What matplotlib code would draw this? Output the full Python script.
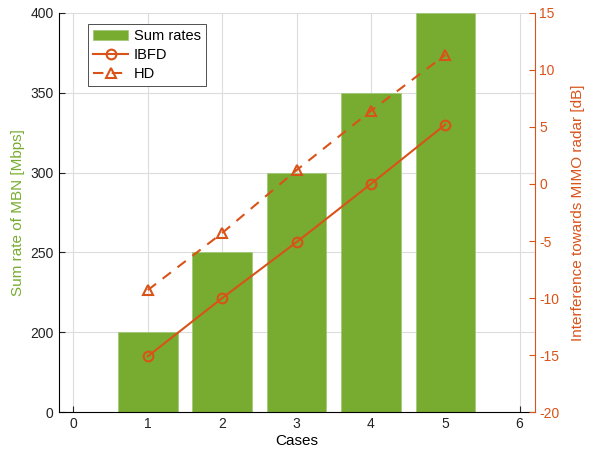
import matplotlib
matplotlib.use('Agg')
import matplotlib.pyplot as plt

plt.rcParams['font.family'] = ['Liberation Sans', 'DejaVu Sans']
plt.rcParams['font.size'] = 10
plt.rcParams['axes.unicode_minus'] = False

# datos
casos = [1, 2, 3, 4, 5]
sumaTasas = [200, 250, 300, 350, 400]          # Mbps
interfIBFD = [-15.1, -10.0, -5.1, 0.0, 5.2]    # dB
interfHD = [-9.3, -4.3, 1.2, 6.4, 11.3]        # dB
ticksIzq = [150, 200, 250, 300, 350, 400]
etiquetasIzq = ['0', '200', '250', '300', '350', '400']
ticksDer = [-20, -15, -10, -5, 0, 5, 10, 15]

verde = '#77AC30'
naranja = '#D95319'

fig = plt.figure(figsize=(5.94, 4.65), dpi=100)
ax = fig.add_axes([58.5/594, 1 - 412.3/465, 476/594, 399.6/465])

# barras de la suma de tasas
barras = ax.bar(casos, sumaTasas, width=0.8, color=verde, edgecolor='#A3C97A',
                linewidth=0.6, label='Sum rates', zorder=2)
ax.set_xlim(-0.2, 6.2)
ax.set_ylim(150, 400)
ax.set_xticks(range(0, 7))
ax.set_yticks(ticksIzq)
ax.set_yticklabels(etiquetasIzq)
ax.grid(True, color='#DCDCDC', linewidth=0.8, zorder=0)
ax.set_axisbelow(True)
ax.set_xlabel('Cases', fontsize=11, labelpad=2)
ax.set_ylabel('Sum rate of MBN [Mbps]', color=verde, fontsize=11, labelpad=4)
ax.tick_params(direction='in', length=4, width=0.8, colors='#222222')
ax.spines['top'].set_visible(False)
ax.spines['right'].set_visible(False)
ax.spines['left'].set_linewidth(0.8)
ax.spines['bottom'].set_linewidth(0.8)

# eje derecho: interferencia
ax2 = ax.twinx()
l1, = ax2.plot(casos, interfIBFD, '-o', color=naranja, linewidth=1.5,
               markersize=7, markerfacecolor='none', markeredgewidth=1.5,
               label='IBFD')
l2, = ax2.plot(casos, interfHD, '--^', color=naranja, linewidth=1.5,
               markersize=7.5, markerfacecolor='none', markeredgewidth=1.5,
               dashes=(5, 4), label='HD')
ax2.set_ylim(-20, 15)
ax2.set_yticks(ticksDer)
ax2.set_ylabel('Interference towards MIMO radar [dB]', color=naranja,
               fontsize=11, labelpad=8)
ax2.tick_params(direction='in', length=4, width=0.8, colors=naranja)
ax2.spines['right'].set_color(naranja)
ax2.spines['right'].set_linewidth(0.8)
for s in ['top', 'left', 'bottom']:
    ax2.spines[s].set_visible(False)

leg = ax2.legend([barras, l1, l2], ['Sum rates', 'IBFD', 'HD'],
                 loc='upper left', bbox_to_anchor=(0.062, 0.972),
                 borderaxespad=0, fancybox=False, framealpha=1,
                 handlelength=2.4, handletextpad=0.4, borderpad=0.35,
                 labelspacing=0.35, fontsize=10.5)
leg.get_frame().set_edgecolor('#333333')
leg.get_frame().set_linewidth(0.6)

plt.savefig('out.png', dpi=100)
